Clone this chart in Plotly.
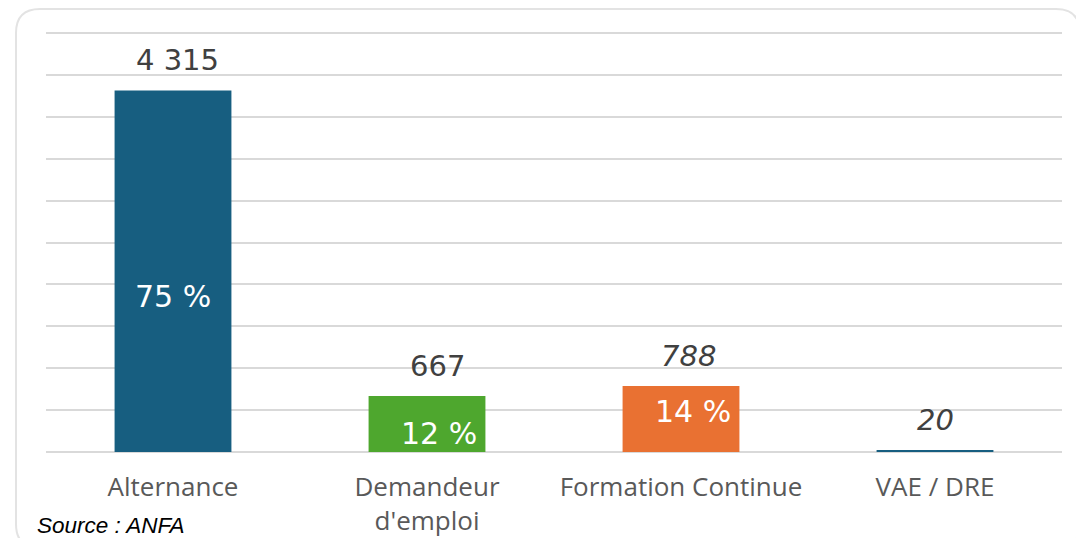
import plotly.graph_objects as go

categories = ["Alternance", "Demandeur<br>d'emploi", "Formation Continue", "VAE / DRE"]
values = [4315, 667, 788, 20]
value_labels = ["4 315", "667", "788", "20"]
pct_labels = ["75 %", "12 %", "14 %", ""]
bar_colors = ["#175E80", "#4EA72E", "#E97132", "#175E80"]
y_top_tick = 5000
y_step = 500
y_pad = 60  # headroom so the top grid line is drawn

# label styling offsets (pixels)
val_xshift = [4, 10, 7, 0]
pct_xshift = [0, 12, 12, 0]
pct_yshift = [-25, -9, 7, 0]
val_italic = ["normal", "normal", "italic", "italic"]

W, H = 1076, 538
grid_top_px, base_px = 33, 452           # pixels of 5000 and 0
px_per_unit = (base_px - grid_top_px) / y_top_tick
top_px = grid_top_px - y_pad * px_per_unit
L = 46
R = W - 1062
T = top_px
B = H - base_px

fig = go.Figure()
fig.add_trace(go.Bar(
    x=categories, y=values, marker_color=bar_colors, marker_line_width=0,
    width=0.46, hoverinfo="skip",
))

for c, v, lab, st, xs in zip(categories, values, value_labels, val_italic, val_xshift):
    fig.add_annotation(x=c, y=v, text=lab, showarrow=False, yshift=30, xshift=xs,
                       font=dict(family="DejaVu Sans", size=29, color="#404040", style=st))
for c, v, lab, xs, ys in zip(categories, values, pct_labels, pct_xshift, pct_yshift):
    if lab:
        fig.add_annotation(x=c, y=v / 2, text=lab, showarrow=False, xshift=xs, yshift=ys,
                           font=dict(family="DejaVu Sans", size=30, color="#FFFFFF"))

pw, ph = W - L - R, H - T - B
def px(xp): return (xp - L) / pw
def py(yp): return (H - B - yp) / ph

fig.add_annotation(xref="paper", yref="paper", x=px(35), y=py(526),
                   xanchor="left", yanchor="middle", text="Source : ANFA", showarrow=False,
                   font=dict(family="Liberation Sans", size=22.5, color="#000000", style="italic"))

# rounded card border (pixel coordinates), partly beyond the right and bottom edges
x0, x1, y0, y1, r = 16, 1080, 9, 548, 24
path = (f"M {px(x0+r)},{py(y0)} L {px(x1-r)},{py(y0)} Q {px(x1)},{py(y0)} {px(x1)},{py(y0+r)} "
        f"L {px(x1)},{py(y1-r)} Q {px(x1)},{py(y1)} {px(x1-r)},{py(y1)} "
        f"L {px(x0+r)},{py(y1)} Q {px(x0)},{py(y1)} {px(x0)},{py(y1-r)} "
        f"L {px(x0)},{py(y0+r)} Q {px(x0)},{py(y0)} {px(x0+r)},{py(y0)} Z")
fig.add_shape(type="path", path=path, xref="paper", yref="paper",
              line=dict(color="#E3E3E3", width=2), layer="below")

fig.update_layout(
    width=W, height=H, margin=dict(l=L, r=R, t=T, b=B, autoexpand=False),
    paper_bgcolor="white", plot_bgcolor="white", showlegend=False,
    xaxis=dict(showgrid=False, showline=False, ticks="", ticklabelstandoff=17, automargin=False,
               tickfont=dict(family="Open Sans", size=26, color="#595959")),
    yaxis=dict(range=[0, y_top_tick + y_pad], dtick=y_step, showticklabels=False, ticks="",
               automargin=False,
               gridcolor="#D9D9D9", gridwidth=2, zeroline=True, zerolinecolor="#D9D9D9",
               zerolinewidth=2, showline=False),
)
fig.write_html("out.html", config={"displayModeBar": False},
               post_script="document.body.style.margin='0';document.documentElement.style.overflow='hidden';")
